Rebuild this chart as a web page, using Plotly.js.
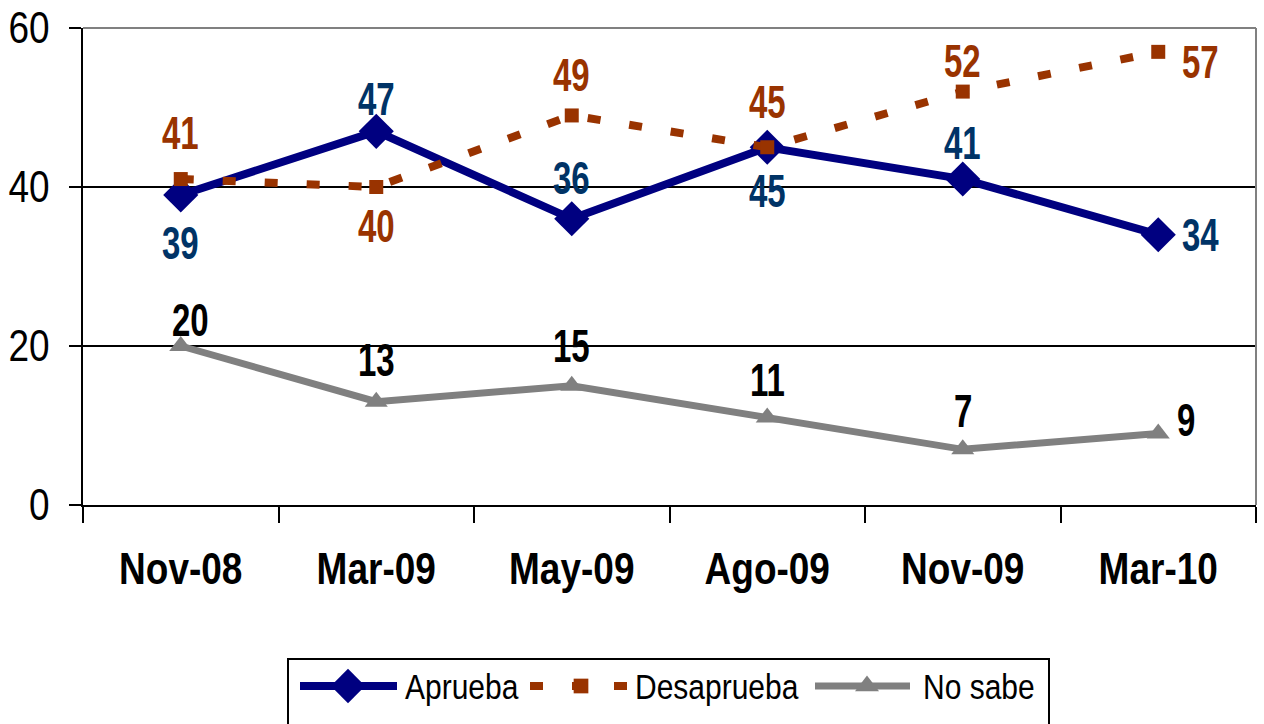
<!DOCTYPE html>
<html><head><meta charset="utf-8">
<script src="https://cdn.plot.ly/plotly-3.0.1.min.js"></script>
<style>html,body{margin:0;padding:0;background:#fff;}#chart{width:1264px;height:724px;}</style>
</head><body><div id="chart"></div>
<script>
const categories = ['Nov-08','Mar-09','May-09','Ago-09','Nov-09','Mar-10'];
const aprueba = [39,47,36,45,41,34];
const desaprueba = [41,40,49,45,52,57];
const noSabe = [20,13,15,11,7,9];
const yTicks = [0,20,40,60];

const FONT = '"Liberation Sans", Arial, sans-serif';

const traces = [
  {name:'Aprueba', x:categories, y:aprueba, type:'scatter', mode:'lines+markers',
   line:{color:'#000080', width:8}, marker:{symbol:'diamond', size:27, color:'#000080'}},
  {name:'Desaprueba', x:categories, y:desaprueba, type:'scatter', mode:'lines+markers',
   line:{color:'#993300', width:8, dash:'13px,29px'}, marker:{symbol:'square', size:14, color:'#993300'}},
  {name:'No sabe', x:categories, y:noSabe, type:'scatter', mode:'lines+markers',
   line:{color:'#808080', width:7}, marker:{symbol:'triangle-up', size:20, color:'#808080'}}
];

// label offsets (pixels) per point
const apOff = [[0,-48],[0,33],[0,41],[0,-43],[0,37],[42,0]];
const deOff = [[0,47],[0,-38],[0,41],[0,46],[0,31],[42,-10]];
const nsOff = [[10,27],[0,42],[0,40],[0,38],[0,39],[28,14]];

const annotations = [];
function addLabels(vals, offs, color){
  vals.forEach((v,i)=>{
    annotations.push({x:categories[i], y:v, xref:'x', yref:'y', text:String(v), showarrow:false,
      xshift:offs[i][0], yshift:offs[i][1],
      font:{family:FONT, size:33, color:color, weight:'bold'}});
  });
}
addLabels(aprueba, apOff, '#003366');
addLabels(desaprueba, deOff, '#993300');
addLabels(noSabe, nsOff, '#000000');

const layout = {
  width:1264, height:724,
  margin:{l:83, r:8, t:28, b:219},
  paper_bgcolor:'#ffffff', plot_bgcolor:'#ffffff',
  showlegend:true,
  legend:{orientation:'h', x:(287-83)/1173, xanchor:'left', y:-(658-505)/477, yanchor:'top',
    bordercolor:'#000000', borderwidth:2, font:{family:FONT, size:30, color:'#000'},
    entrywidth:260, tracegroupgap:0},
  xaxis:{type:'category', tickvals:categories, showgrid:false, showline:true, linecolor:'#000', linewidth:2,
    ticks:'outside', ticklen:16, tickwidth:2, tickcolor:'#000', tickson:'boundaries',
    ticklabelstandoff:30,
    tickfont:{family:FONT, size:37, color:'#000', weight:'bold'}, range:[-0.5,5.5], fixedrange:true},
  yaxis:{range:[0,60], tickvals:yTicks, showgrid:true, gridcolor:'#000', gridwidth:2,
    showline:true, linecolor:'#000', linewidth:2, zeroline:false,
    ticks:'outside', ticklen:12, tickwidth:2, tickcolor:'#000', ticklabelstandoff:12,
    tickfont:{family:FONT, size:37, color:'#000'}, fixedrange:true},
  shapes:[
    {type:'line', xref:'paper', yref:'paper', x0:0, x1:1, y0:1, y1:1, line:{color:'#808080', width:2}, layer:'above'},
    {type:'line', xref:'paper', yref:'paper', x0:1, x1:1, y0:0, y1:1, line:{color:'#808080', width:2}, layer:'above'}
  ],
  annotations:annotations
};

// stretch text vertically to mimic the condensed face of the original
function stretch(sel, s){
  document.querySelectorAll(sel).forEach(t=>{
    const b = t.getBBox();
    const cy = b.y + b.height/2;
    const prev = t.getAttribute('transform') || '';
    t.setAttribute('transform', prev + ` translate(0,${cy}) scale(1,${s}) translate(0,${-cy})`);
  });
}
function parseT(el){
  const m = /translate\(\s*([-\d.e]+)[ ,]+([-\d.e]+)/.exec(el.getAttribute('transform')||'');
  return m ? [parseFloat(m[1]), parseFloat(m[2])] : [0,0];
}
// legend entry geometry (absolute px): start of symbol line, line length, marker offset, text offset, marker scale
const legendItems = [[300,97,48,105,1.65],[530,102,51,105,1.05],[815,95,52,108,1.3]];
const legendBox = [287, 1048];

function fixLegend(){
  const leg = document.querySelector('g.legend');
  if(!leg) return;
  const [lx] = parseT(leg);
  const sb = leg.querySelector('.scrollbox');
  const [sx] = sb ? parseT(sb) : [0,0];
  const bg = leg.querySelector('rect.bg');
  if(bg){ bg.setAttribute('width', legendBox[1]-legendBox[0]); bg.setAttribute('height', 80); }
  document.querySelectorAll('clipPath[id^="legend"] rect').forEach(r=>{r.setAttribute('width',2000); r.setAttribute('height',200);});
  const groups = leg.querySelectorAll('g.traces');
  groups.forEach((g,i)=>{
    const it = legendItems[i]; if(!it) return;
    const [, gy] = parseT(g);
    g.setAttribute('transform', `translate(${it[0]-lx-sx},${gy})`);
    g.querySelectorAll('.legendlines path').forEach(p=>p.setAttribute('d', `M0,0h${it[1]}`));
    g.querySelectorAll('.legendsymbols path, .legendpoints path.scatterpts').forEach(p=>p.setAttribute('transform', `translate(${it[2]},0) scale(${it[4]})`));
    const t = g.querySelector('text.legendtext');
    if(t) t.setAttribute('x', it[3]);
    const tr = g.querySelector('rect.legendtoggle');
    if(tr) tr.setAttribute('width', it[3]+120);
  });
}
Plotly.newPlot('chart', traces, layout, {displayModeBar:false, staticPlot:true}).then(()=>{
  fixLegend();
  stretch('.annotation-text', 1.42);
  stretch('.xtick text', 1.22);
  stretch('.ytick text', 1.18);
  stretch('.legendtext', 1.17);
});
</script>
</body></html>
